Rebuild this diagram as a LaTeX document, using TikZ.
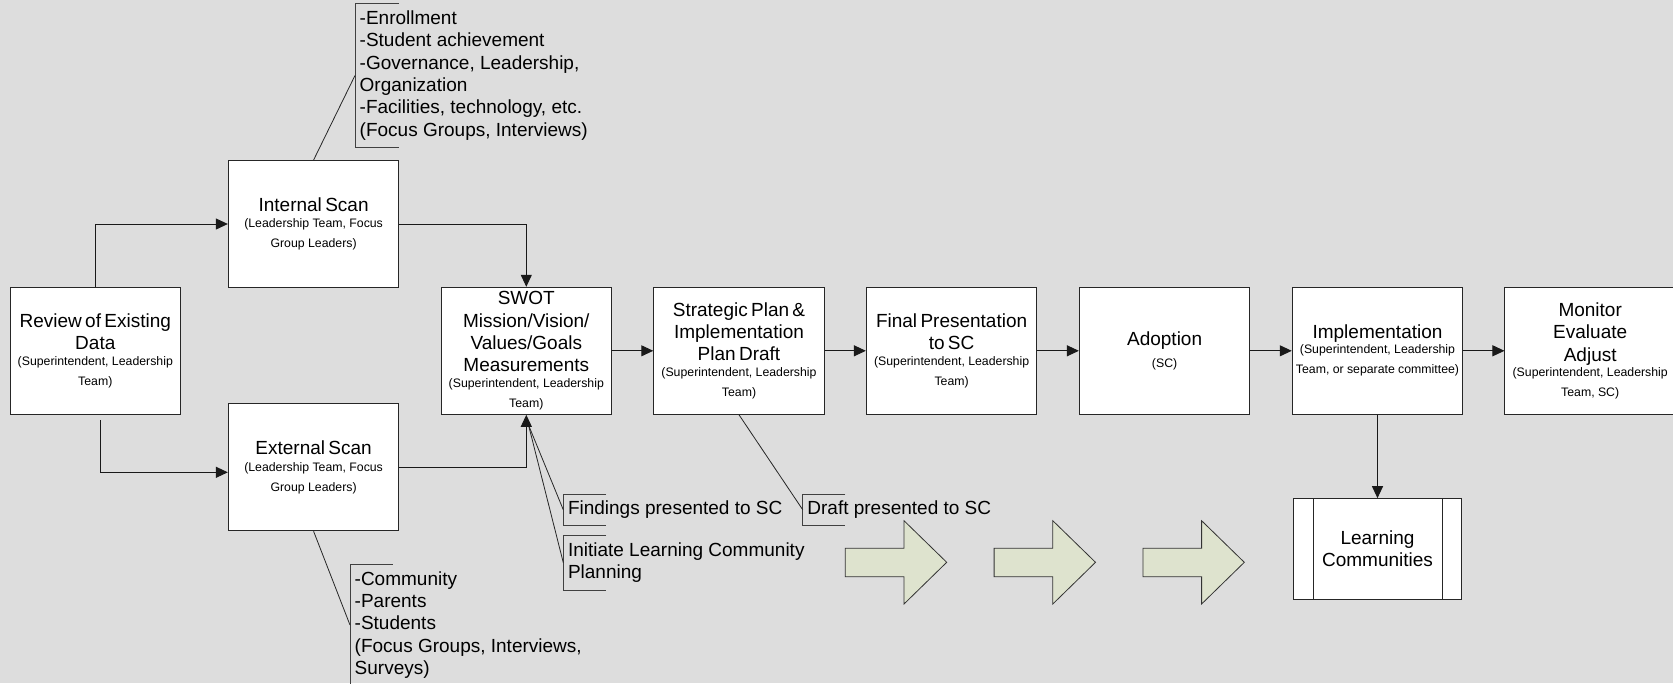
\documentclass[tikz,border=0pt]{standalone}
\usepackage{fontspec}
\setmainfont{Liberation Sans}
\usetikzlibrary{arrows.meta}
\definecolor{bggray}{RGB}{221,221,221}
\definecolor{arrfill}{RGB}{222,227,206}
\newcommand{\boxtitle}[1]{{\fontsize{19}{22.3}\selectfont #1\par}}
\newcommand{\boxsub}[2][-4pt]{\vspace{#1}{\fontsize{12.3}{20}\selectfont #2\par}}
\begin{document}
\begin{tikzpicture}[x=1pt,y=-1pt,
  stage/.style={draw=black!85, fill=white, line width=1pt, minimum width=170.5pt,
    minimum height=127pt, text width=168pt, align=center, inner sep=0pt},
  flow/.style={draw=black!90, line width=1pt, -{Triangle[length=12pt,width=11pt]}},
  callline/.style={draw=black!85, line width=0.8pt},
  bracket/.style={draw=black!75, line width=0.9pt},
  calltext/.style={anchor=west, inner xsep=4.5pt, inner ysep=0pt, align=left,
    font=\fontsize{19}{22.3}\selectfont},
  bigarrow/.style={draw=black!80, fill=arrfill, line width=0.8pt}
]
\useasboundingbox (0,0) rectangle (1673,683);
\fill[bggray] (0,0) rectangle (1673,683);
\clip (0,0) rectangle (1673,683);

% callout coordinates and brackets
\coordinate (intb) at (355,75.5);
\coordinate (extb) at (350,625);
\coordinate (findb) at (563.3,509.8);
\coordinate (initb) at (563.3,562.7);
\coordinate (draftb) at (802.7,509.7);
\coordinate (swotc) at (528.5,425);
\coordinate (revout) at (100.8,420);

\draw[bracket] (399,3.3) -- (355,3.3) -- (355,147.7) -- (399,147.7);
\draw[bracket] (392.7,564.3) -- (350,564.3) -- (350,685.7) -- (392.7,685.7);
\draw[bracket] (606,494) -- (563.3,494) -- (563.3,525.7) -- (606,525.7);
\draw[bracket] (606,535.3) -- (563.3,535.3) -- (563.3,590) -- (606,590);
\draw[bracket] (845.3,494) -- (802.7,494) -- (802.7,525.3) -- (845.3,525.3);

\node[calltext] (intt) at (intb) {-Enrollment\\-Student achievement\\-Governance, Leadership,\\Organization\\-Facilities, technology, etc.\\(Focus Groups, Interviews)};
\node[calltext] (extt) at (extb) {-Community\\-Parents\\-Students\\(Focus Groups, Interviews,\\Surveys)};
\node[calltext] (findt) at (findb) {Findings presented to SC};
\node[calltext] (initt) at (initb) {Initiate Learning Community\\Planning};
\node[calltext] (draftt) at (draftb) {Draft presented to SC};

% boxes
\node[stage] (review) at (95.3,350.8) {\boxtitle{Review of Existing\\Data}\boxsub{(Superintendent, Leadership\\Team)}};
\node[stage] (internal) at (313.6,224) {\boxtitle{Internal Scan}\boxsub[-3.5pt]{(Leadership Team, Focus\\Group Leaders)}};
\node[stage] (external) at (313.6,467.3) {\boxtitle{External Scan}\boxsub[-3.5pt]{(Leadership Team, Focus\\Group Leaders)}};
\node[stage] (swot) at (526.3,350.8) {\boxtitle{SWOT\\Mission/Vision/\\Values/Goals\\Measurements}\boxsub{(Superintendent, Leadership\\Team)}};
\node[stage] (strat) at (739,350.8) {\boxtitle{Strategic Plan \&\\Implementation\\Plan Draft}\boxsub{(Superintendent, Leadership\\Team)}};
\node[stage] (final) at (951.6,350.8) {\boxtitle{Final Presentation\\to SC}\boxsub{(Superintendent, Leadership\\Team)}};
\node[stage] (adopt) at (1164.6,350.8) {\boxtitle{Adoption}\boxsub[1.5pt]{(SC)}};
\node[stage] (impl) at (1377.5,350.8) {\boxtitle{Implementation}\boxsub[-5pt]{(Superintendent, Leadership\\Team, or separate committee)}};
\node[stage] (monitor) at (1590.2,350.8) {\boxtitle{Monitor\\Evaluate\\Adjust}\boxsub[-5pt]{(Superintendent, Leadership\\Team, SC)}};
\node[stage, minimum width=167.8pt, minimum height=100.6pt] (learn) at (1377.5,549) {\boxtitle{Learning\\Communities}};
\draw[draw=black!85, line width=1pt] ([xshift=20pt]learn.north west) -- ([xshift=20pt]learn.south west);
\draw[draw=black!85, line width=1pt] ([xshift=-20pt]learn.north east) -- ([xshift=-20pt]learn.south east);

% callout lines
\draw[callline] (internal.north) -- (intb);
\draw[callline] (external.south) -- (extb);
\draw[callline] (swotc) -- (findb);
\draw[callline] (swotc) -- (initb);
\draw[callline] (strat.south) -- (draftb);

% flow connectors
\draw[flow] (review.north) |- (internal.west);
\draw[flow] (revout) |- ([yshift=-5pt]external.west);
\draw[flow] (internal.east) -| (swot.north);
\draw[flow] (external.east) -| (swot.south);
\draw[flow] (swot.east) -- (strat.west);
\draw[flow] (strat.east) -- (final.west);
\draw[flow] (final.east) -- (adopt.west);
\draw[flow] (adopt.east) -- (impl.west);
\draw[flow] (impl.east) -- (monitor.west);
\draw[flow] (impl.south) -- (learn.north);

% block arrows
\foreach \dx in {0,148.8,297.6} {
  \draw[bigarrow] (845.3+\dx,548.3) -- (904+\dx,548.3) -- (904+\dx,520.7)
    -- (946.7+\dx,562.3) -- (904+\dx,604) -- (904+\dx,576.7) -- (845.3+\dx,576.7) -- cycle;
}
\end{tikzpicture}
\end{document}
